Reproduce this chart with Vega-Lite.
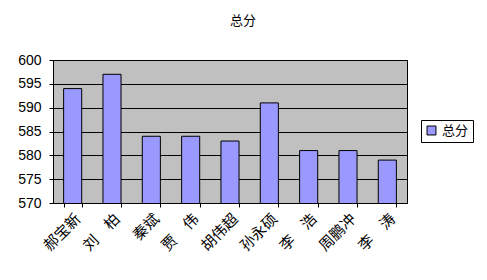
{
  "$schema": "https://vega.github.io/schema/vega-lite/v6.json",
  "autosize": "none",
  "width": 354,
  "height": 143,
  "padding": {"left": 53, "top": 60, "right": 80, "bottom": 77},
  "background": "white",
  "title": {"text": "总分", "font": "Noto Sans CJK SC", "fontSize": 13, "fontWeight": "normal", "color": "black", "anchor": "middle", "dx": 13, "offset": 25},
  "data": {"values": [
    {"name": "郝宝新", "score": 594, "series": "总分"},
    {"name": "刘　柏", "score": 597, "series": "总分"},
    {"name": "秦斌", "score": 584, "series": "总分"},
    {"name": "贾　伟", "score": 584, "series": "总分"},
    {"name": "胡伟超", "score": 583, "series": "总分"},
    {"name": "孙永硕", "score": 591, "series": "总分"},
    {"name": "李　浩", "score": 581, "series": "总分"},
    {"name": "周鹏冲", "score": 581, "series": "总分"},
    {"name": "李　涛", "score": 579, "series": "总分"}
  ]},
  "mark": {"type": "bar", "stroke": "#000000", "strokeWidth": 1, "clip": true},
  "encoding": {
    "x": {"field": "name", "type": "nominal", "sort": null,
      "scale": {"paddingInner": 0.54, "paddingOuter": 0.27},
      "axis": {"title": null, "labelAngle": -45, "labelFont": "Noto Sans CJK SC", "labelFontSize": 15, "labelColor": "black",
        "domainColor": "black", "tickColor": "black", "tickBand": "extent", "tickSize": 4, "labelPadding": 4}},
    "y": {"field": "score", "type": "quantitative",
      "scale": {"domain": [570, 600], "zero": false, "nice": false},
      "axis": {"title": null, "values": [570, 575, 580, 585, 590, 595, 600], "labelFont": "Liberation Sans", "labelFontSize": 14, "labelColor": "black",
        "grid": true, "gridColor": "black", "gridOpacity": 1, "domainColor": "black", "tickColor": "black", "tickSize": 4, "labelPadding": 8}},
    "color": {"field": "series", "type": "nominal", "scale": {"range": ["#9999FF"]},
      "legend": {"title": null, "orient": "none", "legendX": 368, "legendY": 60, "labelFont": "Noto Sans CJK SC", "labelFontSize": 13, "labelColor": "black",
        "symbolType": "square", "symbolSize": 80, "symbolStrokeColor": "black", "symbolStrokeWidth": 1, "strokeColor": "black", "padding": 4}}
  },
  "config": {"view": {"fill": "#C0C0C0", "stroke": "black", "strokeWidth": 1}}
}
